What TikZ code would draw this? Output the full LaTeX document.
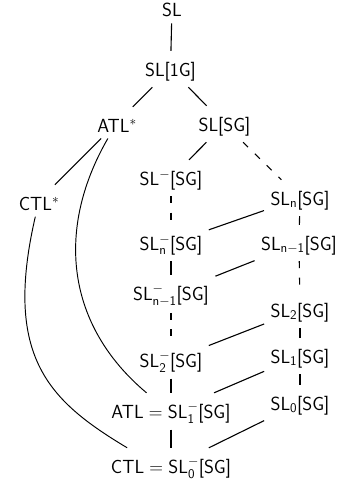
\RequirePackage{fix-cm}
\documentclass[tikz,border=0pt]{standalone}
\usepackage{amsmath}
\newcommand{\sfx}[1]{\textsf{#1}}
\begin{document}
\begin{tikzpicture}[x=1pt,y=1pt,
  lbl/.style={anchor=base, font=\sffamily\fontsize{19}{23}\selectfont, text height=18.7pt, inner sep=6.3pt},
  edge/.style={line width=1.1pt},
  dashedge/.style={line width=1.1pt, dash pattern=on 7pt off 9.5pt},
  curve/.style={line width=0.95pt}]
\useasboundingbox (0,0) rectangle (345,-482);
\node[lbl] (sl)     at (172,-16.5) {SL};
\node[lbl] (sl1g)   at (170.5,-76) {SL[1G]};
\node[lbl] (atls)   at (117,-132)  {ATL$^*$};
\node[lbl] (slsg)   at (224.5,-131) {SL[SG]};
\node[lbl] (ctls)   at (39,-210)   {CTL$^*$};
\node[lbl] (slm)    at (171,-185)  {SL$^-$[SG]};
\node[lbl] (sln)    at (300,-205)  {SL$_\sfx{n}$[SG]};
\node[lbl] (slnm)   at (171,-250)  {SL$^-_\sfx{n}$[SG]};
\node[lbl] (sln1)   at (299,-250)  {SL$_{\sfx{n}-\sfx{1}}$[SG]};
\node[lbl] (slnm1m) at (171,-300)  {SL$^-_{\sfx{n}-\sfx{1}}$[SG]};
\node[lbl] (sl2)    at (300,-317)  {SL$_\sfx{2}$[SG]};
\node[lbl] (sl2m)   at (171,-367)  {SL$^-_\sfx{2}$[SG]};
\node[lbl] (sl1)    at (300,-363)  {SL$_\sfx{1}$[SG]};
\node[lbl] (atl)    at (171,-418)  {ATL${}={}$SL$^-_\sfx{1}$[SG]};
\node[lbl] (sl0)    at (300,-410)  {SL$_\sfx{0}$[SG]};
\node[lbl] (ctl)    at (171,-473)  {CTL${}={}$SL$^-_\sfx{0}$[SG]};

\draw[edge] (sl) -- (sl1g);
\draw[edge] (sl1g) -- (atls);
\draw[edge] (sl1g) -- (slsg);
\draw[edge] (atls) -- (ctls);
\draw[edge] (slsg) -- (slm);
\draw[dashedge] (slsg) -- (sln);
\draw[dashedge] (slm) -- (slnm);
\draw[edge] (slnm) -- (slnm1m);
\draw[dashedge] (slnm1m) -- (sl2m);
\draw[edge] (sl2m) -- (atl);
\draw[edge] (atl) -- (ctl);
\draw[edge] (sln) -- (sln1);
\draw[dashedge] (sln1) -- (sl2);
\draw[edge] (sl2) -- (sl1);
\draw[edge] (sl1) -- (sl0);
\draw[edge] (sln) -- (slnm);
\draw[edge] (sln1) -- (slnm1m);
\draw[edge] (sl2) -- (sl2m);
\draw[edge] (sl1) -- (atl);
\draw[edge] (sl0) -- (ctl);
\draw[curve] (atls.240) to[out=240,in=140,out distance=105pt,in distance=105pt] (atl.143);
\draw[curve] (ctls.257) to[out=257,in=149,out distance=145pt,in distance=90pt] (ctl.157);
\end{tikzpicture}
\end{document}
